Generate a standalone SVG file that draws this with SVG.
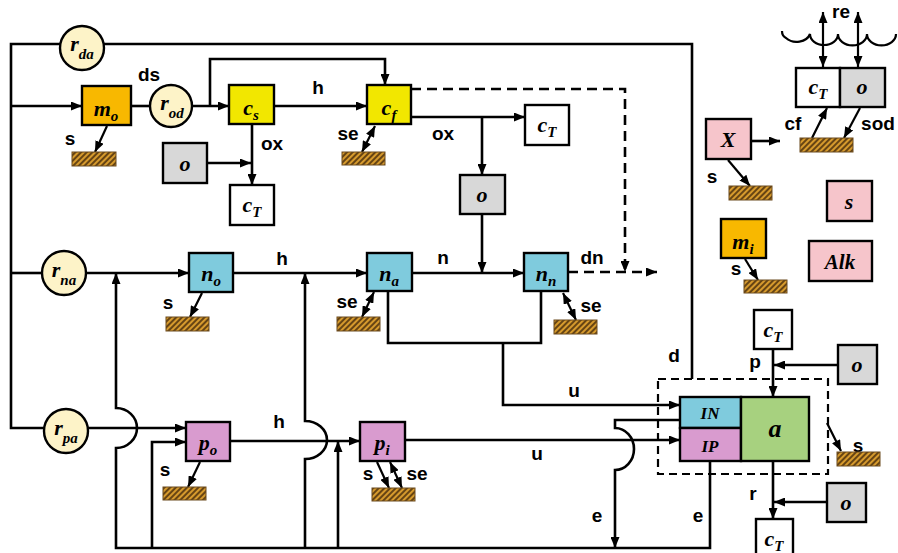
<svg xmlns="http://www.w3.org/2000/svg" width="898" height="553" viewBox="0 0 898 553">
<defs>
<style>
.ln{fill:none;stroke:#000;stroke-width:2.6}
.th{stroke-width:2.2}
.dsh{stroke-dasharray:10 6}
.bx{stroke:#000;stroke-width:2.4}
.ci{fill:#FDF3C8;stroke:#000;stroke-width:2.4}
.sed{fill:url(#hatch);stroke:#6B4A1E;stroke-width:1}
.lb{font-family:"Liberation Sans",Arial,sans-serif;font-weight:bold;font-size:19px;text-anchor:middle;fill:#000}
.nt{font-family:"Liberation Serif","Times New Roman",serif;font-weight:bold;font-style:italic;font-size:22px;text-anchor:middle;fill:#000}
.sb{font-size:15px}
.ye{fill:#F2E700}.or{fill:#F8B800}.gr{fill:#D8D8D8}.wh{fill:#FFFFFF}.cy{fill:#7FCBDD}.pu{fill:#D99BCF}.pk{fill:#F6C5CB}.gn{fill:#A7D17F}
</style>
<marker id="ah" viewBox="0 0 11 9" refX="11" refY="4.5" markerWidth="11" markerHeight="9" markerUnits="userSpaceOnUse" orient="auto-start-reverse"><path d="M0,0 L11,4.5 L0,9 z" fill="#000"/></marker>
<pattern id="hatch" patternUnits="userSpaceOnUse" width="4" height="4" patternTransform="rotate(45)"><rect width="4" height="4" fill="#D69A2D"/><line x1="1" y1="0" x2="1" y2="4" stroke="#5A3A10" stroke-width="1.8"/></pattern>
</defs>
<rect width="898" height="553" fill="#FFFFFF"/>

<g id="connectors">
<path class="ln" d="M60,44 L11,44 L11,428 L44,428"/>
<path class="ln" d="M104,44 L692,44 L692,379"/>
<path class="ln" d="M11,106 L82,106" marker-end="url(#ah)"/>
<path class="ln" d="M11,273 L42,273"/>
<path class="ln" d="M86,273 L189,273" marker-end="url(#ah)"/>
<path class="ln" d="M88,428 L186,428" marker-end="url(#ah)"/>
<path class="ln" d="M131,106 L150,106"/>
<path class="ln" d="M193,106 L229,106" marker-end="url(#ah)"/>
<path class="ln" d="M210,106 L210,59 L385,59 L385,85" marker-end="url(#ah)"/>
<path class="ln" d="M274,106 L367,106" marker-end="url(#ah)"/>
<path class="ln" d="M252,124 L252,185" marker-end="url(#ah)"/>
<path class="ln" d="M207,163 L251,163" marker-end="url(#ah)"/>
<path class="ln" d="M411,117 L525,117" marker-end="url(#ah)"/>
<path class="ln" d="M482,117 L482,175" marker-end="url(#ah)"/>
<path class="ln dsh" d="M411,89 L625,89 L625,272" marker-end="url(#ah)"/>
<path class="ln dsh" d="M568,272 L657,272" marker-end="url(#ah)"/>
<path class="ln" d="M482,214 L482,273" marker-end="url(#ah)"/>
<path class="ln" d="M233,273 L367,273" marker-end="url(#ah)"/>
<path class="ln" d="M412,273 L524,273" marker-end="url(#ah)"/>
<path class="ln" d="M388,291 L388,343 L541,343 L541,291"/>
<path class="ln" d="M503,343 L503,405 L680,405" marker-end="url(#ah)"/>
<path class="ln" d="M230,441 L360,441" marker-end="url(#ah)"/>
<path class="ln" d="M405,440 L680,440" marker-end="url(#ah)"/>
<path class="ln" d="M680,420 L615,420 L615,428 A19,21 0 0 1 615,470 L615,548" marker-end="url(#ah)"/>
<path class="ln" d="M710,461 L710,548 L116,548 L116,448 A21,20 0 0 0 116,408 L116,273" marker-end="url(#ah)"/>
<path class="ln" d="M152,548 L152,442 L186,442" marker-end="url(#ah)"/>
<path class="ln" d="M305,548 L305,459 A22,19 0 0 0 305,421 L305,273" marker-end="url(#ah)"/>
<path class="ln" d="M338,548 L338,441" marker-end="url(#ah)"/>
<path class="ln" d="M773,349 L773,397" marker-end="url(#ah)"/>
<path class="ln" d="M838,365 L774,365" marker-end="url(#ah)"/>
<path class="ln" d="M773,461 L773,519" marker-end="url(#ah)"/>
<path class="ln" d="M827,502 L774,502" marker-end="url(#ah)"/>
<path class="ln" d="M751,141 L780,141" marker-end="url(#ah)"/>
<path class="ln th" d="M107,126 L95,152" marker-end="url(#ah)"/>
<path class="ln th" d="M375,126 L362,152" marker-start="url(#ah)" marker-end="url(#ah)"/>
<path class="ln th" d="M202,293 L190,317" marker-end="url(#ah)"/>
<path class="ln th" d="M374,292 L362,317" marker-start="url(#ah)" marker-end="url(#ah)"/>
<path class="ln th" d="M563,293 L576,320" marker-start="url(#ah)" marker-end="url(#ah)"/>
<path class="ln th" d="M200,462 L188,487" marker-end="url(#ah)"/>
<path class="ln th" d="M377,462 L389,488" marker-end="url(#ah)"/>
<path class="ln th" d="M390,462 L402,488" marker-start="url(#ah)" marker-end="url(#ah)"/>
<path class="ln th" d="M827,423 L841,451" marker-end="url(#ah)"/>
<path class="ln th" d="M728,160 L750,186" marker-end="url(#ah)"/>
<path class="ln th" d="M745,259 L758,280" marker-end="url(#ah)"/>
<path class="ln th" d="M812,138 L827,108" marker-end="url(#ah)"/>
<path class="ln th" d="M860,108 L844,138" marker-end="url(#ah)"/>
<path class="ln th" d="M823,12 L823,67" marker-start="url(#ah)" marker-end="url(#ah)"/>
<path class="ln th" d="M858,12 L858,67" marker-start="url(#ah)" marker-end="url(#ah)"/>
<path class="ln th" d="M782,31 Q782,36 786,38 A14,11 0 0 0 810,34 A14,11 0 0 0 838,34 A14,11 0 0 0 867,34 A14,11 0 0 0 896,34"/>
</g>

<g id="labels">
<text class="lb" x="149" y="81">ds</text>
<text class="lb" x="70" y="145">s</text>
<text class="lb" x="272" y="150">ox</text>
<text class="lb" x="318" y="94">h</text>
<text class="lb" x="348" y="140">se</text>
<text class="lb" x="443" y="140">ox</text>
<text class="lb" x="282" y="265">h</text>
<text class="lb" x="168" y="309">s</text>
<text class="lb" x="347" y="308">se</text>
<text class="lb" x="443" y="264">n</text>
<text class="lb" x="592" y="264">dn</text>
<text class="lb" x="591" y="312">se</text>
<text class="lb" x="574" y="397">u</text>
<text class="lb" x="674" y="362">d</text>
<text class="lb" x="755" y="368">p</text>
<text class="lb" x="279" y="428">h</text>
<text class="lb" x="165" y="476">s</text>
<text class="lb" x="537" y="460">u</text>
<text class="lb" x="368" y="480">s</text>
<text class="lb" x="417" y="480">se</text>
<text class="lb" x="597" y="522">e</text>
<text class="lb" x="698" y="522">e</text>
<text class="lb" x="753" y="500">r</text>
<text class="lb" x="858" y="452">s</text>
<text class="lb" x="793" y="130">cf</text>
<text class="lb" x="878" y="130">sod</text>
<text class="lb" x="841" y="18">re</text>
<text class="lb" x="712" y="183">s</text>
<text class="lb" x="736" y="275">s</text>
</g>

<g id="sediments">
<rect class="sed" x="72" y="152" width="44" height="14"/>
<rect class="sed" x="342" y="152" width="43" height="13"/>
<rect class="sed" x="166" y="317" width="43" height="14"/>
<rect class="sed" x="337" y="317" width="43" height="14"/>
<rect class="sed" x="554" y="320" width="43" height="14"/>
<rect class="sed" x="163" y="487" width="43" height="13"/>
<rect class="sed" x="372" y="488" width="43" height="13"/>
<rect class="sed" x="837" y="452" width="43" height="14"/>
<rect class="sed" x="800" y="138" width="53" height="14"/>
<rect class="sed" x="729" y="186" width="43" height="14"/>
<rect class="sed" x="744" y="280" width="43" height="13"/>
</g>

<g id="r_da"><circle class="ci" cx="82" cy="48" r="22"/><text class="nt" x="82" y="51">r<tspan class="sb" dy="8">da</tspan></text></g>
<g id="r_od"><circle class="ci" cx="171" cy="106" r="21"/><text class="nt" x="172" y="110">r<tspan class="sb" dy="8">od</tspan></text></g>
<g id="r_na"><circle class="ci" cx="64" cy="273" r="22"/><text class="nt" x="64" y="277">r<tspan class="sb" dy="8">na</tspan></text></g>
<g id="r_pa"><circle class="ci" cx="66" cy="431" r="22"/><text class="nt" x="66" y="435">r<tspan class="sb" dy="8">pa</tspan></text></g>

<g id="m_o"><rect class="bx or" x="82" y="86" width="49" height="39"/><text class="nt" x="106" y="116">m<tspan class="sb" dy="5">o</tspan></text></g>
<g id="c_s"><rect class="bx ye" x="229" y="85" width="45" height="39"/><text class="nt" x="251" y="115">c<tspan class="sb" dy="5">s</tspan></text></g>
<g id="c_f"><rect class="bx ye" x="367" y="85" width="44" height="39"/><text class="nt" x="389" y="115">c<tspan class="sb" dy="5">f</tspan></text></g>
<g id="o_1"><rect class="bx gr" x="163" y="143" width="44" height="40"/><text class="nt" x="185" y="171">o</text></g>
<g id="c_T1"><rect class="bx wh" x="230" y="185" width="44" height="40"/><text class="nt" x="252" y="212">c<tspan class="sb" dy="5">T</tspan></text></g>
<g id="c_T2"><rect class="bx wh" x="525" y="105" width="44" height="40"/><text class="nt" x="547" y="132">c<tspan class="sb" dy="5">T</tspan></text></g>
<g id="o_2"><rect class="bx gr" x="460" y="175" width="45" height="39"/><text class="nt" x="482" y="202">o</text></g>
<g id="n_o"><rect class="bx cy" x="189" y="253" width="44" height="39"/><text class="nt" x="211" y="281">n<tspan class="sb" dy="5">o</tspan></text></g>
<g id="n_a"><rect class="bx cy" x="367" y="253" width="45" height="38"/><text class="nt" x="389" y="281">n<tspan class="sb" dy="5">a</tspan></text></g>
<g id="n_n"><rect class="bx cy" x="524" y="253" width="44" height="38"/><text class="nt" x="546" y="281">n<tspan class="sb" dy="5">n</tspan></text></g>
<g id="p_o"><rect class="bx pu" x="186" y="422" width="44" height="39"/><text class="nt" x="208" y="450">p<tspan class="sb" dy="5">o</tspan></text></g>
<g id="p_i"><rect class="bx pu" x="360" y="422" width="45" height="39"/><text class="nt" x="382" y="450">p<tspan class="sb" dy="5">i</tspan></text></g>

<g id="algae">
<rect x="658" y="379" width="170" height="95" fill="none" stroke="#000" stroke-width="2.2" stroke-dasharray="8 5"/>
<rect class="bx cy" x="680" y="397" width="61" height="31"/><text class="nt" x="710" y="419" style="font-size:17px">IN</text>
<rect class="bx pu" x="680" y="428" width="61" height="33"/><text class="nt" x="710" y="452" style="font-size:17px">IP</text>
<rect class="bx gn" x="741" y="397" width="68" height="64"/><text class="nt" x="775" y="437" style="font-size:26px">a</text>
</g>
<g id="c_T3"><rect class="bx wh" x="754" y="310" width="38" height="39"/><text class="nt" x="773" y="337">c<tspan class="sb" dy="5">T</tspan></text></g>
<g id="o_3"><rect class="bx gr" x="838" y="345" width="39" height="39"/><text class="nt" x="857" y="372">o</text></g>
<g id="o_4"><rect class="bx gr" x="827" y="483" width="39" height="39"/><text class="nt" x="846" y="510">o</text></g>
<g id="c_T4"><rect class="bx wh" x="756" y="519" width="37" height="40"/><text class="nt" x="774" y="546">c<tspan class="sb" dy="5">T</tspan></text></g>
<g id="X"><rect class="bx pk" x="706" y="119" width="45" height="40"/><text class="nt" x="728" y="147">X</text></g>
<g id="s"><rect class="bx pk" x="827" y="181" width="45" height="40"/><text class="nt" x="849" y="209">s</text></g>
<g id="m_i"><rect class="bx or" x="721" y="219" width="45" height="39"/><text class="nt" x="743" y="249">m<tspan class="sb" dy="5">i</tspan></text></g>
<g id="Alk"><rect class="bx pk" x="809" y="241" width="63" height="40"/><text class="nt" x="840" y="269" style="font-size:21px">Alk</text></g>
<g id="c_T5"><rect class="bx wh" x="796" y="68" width="44" height="39"/><text class="nt" x="818" y="94">c<tspan class="sb" dy="5">T</tspan></text></g>
<g id="o_5"><rect class="bx gr" x="840" y="68" width="45" height="39"/><text class="nt" x="862" y="94">o</text></g>
</svg>
